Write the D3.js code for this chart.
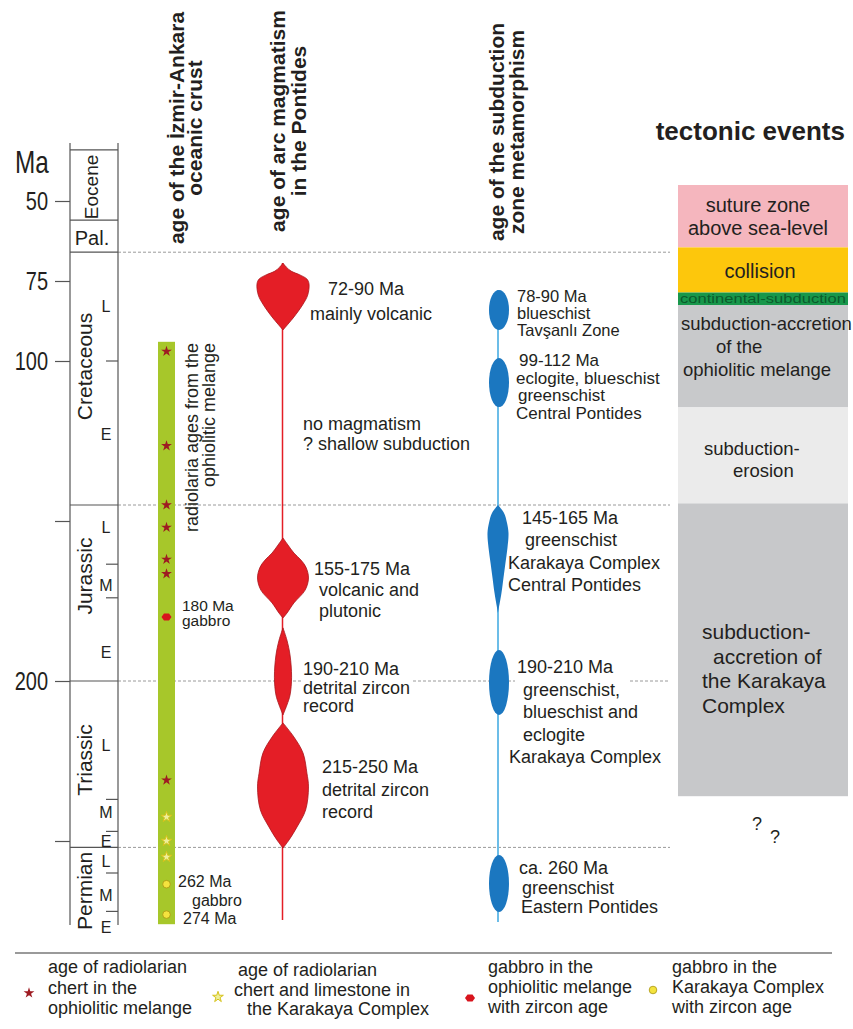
<!DOCTYPE html>
<html>
<head>
<meta charset="utf-8">
<script src="https://cdn.jsdelivr.net/npm/d3@7"></script>
<style>
body { margin: 0; background: #fff; }
text { font-family: "Liberation Sans", Arial, sans-serif; fill: #231f20; }
</style>
</head>
<body>
<div id="chart"></div>
<script>
var width = 853;
var height = 1029;

// geologic time scale (Ma)
var periods = ["Eocene", "Pal.", "Cretaceous", "Jurassic", "Triassic", "Permian"];
var periodTops = [34, 56, 66, 145, 200, 252];
var periodBases = [56, 66, 145, 200, 252, 276];
var periodLabelAges = [45.6, 61.25, 101.7, 167.2, 224.7, 265.6];
var epochLetters = ["L", "E", "L", "M", "E", "L", "M", "E", "L", "M", "E"];
var epochLabelAges = [83, 123, 152, 170, 191, 220, 241, 250, 256.5, 267, 277];
var epochTicks = [100, 163.5, 174, 237, 247, 260, 272];
var axisTicks = [50, 75, 100, 150, 200, 250];
var axisLabels = ["50", "75", "100", "", "200", ""];

// age of the Izmir-Ankara oceanic crust
var crustTop = 94;
var crustBase = 276;
var chertOphiolite = [97, 126.5, 145, 152, 162, 166.5, 231];
var chertKarakaya = [242.5, 250, 255];
var gabbroOphiolite = [180];
var gabbroKarakaya = [263.5, 273];

// arc magmatism bodies: age profile + relative width
var arcAges = [
    [69.4, 70.6, 71.9, 73.1, 74.4, 75.9, 79.4, 82.5, 86.25, 88.4, 90.3],
    [155.3, 157.5, 160, 162.2, 164.4, 167.8, 171.6, 175.6, 178.8, 180.3],
    [183.4, 187.2, 191.9, 198.8, 204.4, 207.5, 210.6],
    [213.1, 217.5, 222.5, 228.8, 233.1, 240.3, 245.6, 249.7, 252.2]
];
var arcWidths = [
    [0, 0.12, 0.31, 0.65, 0.92, 1, 0.95, 0.75, 0.42, 0.2, 0],
    [0, 0.19, 0.42, 0.69, 0.88, 0.98, 0.85, 0.42, 0.15, 0],
    [0, 0.15, 0.27, 0.33, 0.27, 0.15, 0],
    [0, 0.42, 0.77, 0.92, 0.98, 0.87, 0.54, 0.23, 0]
];

// subduction zone metamorphism
var metaTops = [77.8, 99.1, 190.3, 254.4];
var metaBases = [90.3, 114.4, 210.6, 272.2];
var spindleAges = [145, 147.5, 150.6, 153.75, 158.4, 163.1, 167.8, 172.5, 178.75];
var spindleWidths = [0, 0.57, 0.86, 1, 0.9, 0.71, 0.52, 0.33, 0];

// tectonic events
var tectLines = [
    ["suture zone", "above sea-level"],
    ["collision"],
    ["continental-subduction"],
    ["subduction-accretion", "of the", "ophiolitic melange"],
    ["subduction-", "erosion"],
    ["subduction-", "accretion of", "the Karakaya", "Complex"]
];
var tectTops = [45, 64.5, 78.6, 82.5, 114.5, 144.5];
var tectBases = [64.5, 78.6, 82.5, 114.5, 144.5, 236];
var tectColors = ["#f5b6be", "#fdc70c", "#18974b", "#c8c9cb", "#ebebeb", "#c7c8ca"];

var svg = d3.select("#chart").append("svg").attr("width", width).attr("height", height);

var y = d3.scaleLinear().domain([50, 250]).range([201, 841]);
var wArc = d3.scaleLinear().domain([0, 1]).range([0, 26]);
var wMeta = d3.scaleLinear().domain([0, 1]).range([0, 10.5]);

var colL = 70, colR = 118;
var arcX = 283, metaX = 498, crustX = 166.5;
var tectL = 678, tectR = 848;

// dashed period boundaries
var dashG = svg.append("g").attr("stroke", "#9a9a9a").attr("stroke-width", 1).attr("stroke-dasharray", "3,2");
[66, 145, 252].forEach(function(a) {
    dashG.append("line").attr("x1", colR).attr("x2", 670).attr("y1", y(a)).attr("y2", y(a));
});
[[colR, 302], [413, 515], [630, 670]].forEach(function(s) {
    dashG.append("line").attr("x1", s[0]).attr("x2", s[1]).attr("y1", y(200)).attr("y2", y(200));
});

// time scale column
var ts = svg.append("g").attr("stroke", "#555").attr("stroke-width", 1.2);
ts.append("line").attr("x1", colL).attr("x2", colL).attr("y1", 143).attr("y2", 925);
ts.append("line").attr("x1", colR).attr("x2", colR).attr("y1", 143).attr("y2", 925);
periodTops.forEach(function(a) {
    ts.append("line").attr("x1", colL).attr("x2", colR).attr("y1", y(a)).attr("y2", y(a));
});
epochTicks.forEach(function(a) {
    ts.append("line").attr("x1", colR - 12).attr("x2", colR).attr("y1", y(a)).attr("y2", y(a));
});

periods.forEach(function(p, i) {
    var cy = y(periodLabelAges[i]);
    if (p == "Pal.") {
        svg.append("text").attr("x", 92).attr("y", cy + 8).attr("text-anchor", "middle")
            .style("font-size", "20px").text(p);
    } else {
        var bx = (p == "Eocene") ? 98 : 92;
        svg.append("text").attr("transform", "translate(" + bx + "," + cy + ") rotate(-90)")
            .attr("text-anchor", "middle").style("font-size", p == "Eocene" ? "19px" : "21px").text(p);
    }
});
epochLetters.forEach(function(l, i) {
    svg.append("text").attr("x", 106).attr("y", y(epochLabelAges[i]) + 5.5).attr("text-anchor", "middle")
        .style("font-size", "16px").text(l);
});

var axis = d3.axisLeft(y).tickValues(axisTicks).tickSize(15).tickPadding(6)
    .tickFormat(function(d, i) { return axisLabels[i]; });
var axG = svg.append("g").attr("transform", "translate(" + colL + ",0)").call(axis);
axG.select(".domain").remove();
axG.selectAll(".tick line").attr("stroke", "#555").attr("stroke-width", 1.2);
// condensed look of the scale numbers
axG.selectAll(".tick text").attr("x", 0).attr("dy", "0.35em")
    .attr("transform", "translate(-22,0) scale(0.8,1)")
    .style("font-size", "25px").style("font-family", "'Liberation Sans', Arial, sans-serif").attr("fill", "#231f20");

svg.append("text").attr("transform", "translate(15,173) scale(0.76,1)").style("font-size", "32px").text("Ma");

// column headers
function header(x1, x2, cy, l1, l2) {
    svg.append("text").attr("transform", "translate(" + x1 + "," + cy + ") rotate(-90)")
        .attr("text-anchor", "middle").style("font-size", "21px").style("font-weight", "bold").text(l1);
    svg.append("text").attr("transform", "translate(" + x2 + "," + cy + ") rotate(-90)")
        .attr("text-anchor", "middle").style("font-size", "21px").style("font-weight", "bold").text(l2);
}
header(184, 202, 128, "age of the İzmir-Ankara", "oceanic crust");
header(285, 306, 121, "age of arc magmatism", "in the Pontides");
header(504, 524, 132, "age of the subduction", "zone metamorphism");

svg.append("text").attr("x", 845).attr("y", 140).attr("text-anchor", "end")
    .style("font-size", "26px").style("font-weight", "bold").text("tectonic events");

// oceanic crust column
svg.append("rect").attr("x", 158).attr("width", 17).attr("y", y(crustTop))
    .attr("height", y(crustBase) - y(crustTop)).attr("fill", "#a7c72a");

var star = d3.symbol().type(d3.symbolStar).size(36);
var hexagon = {
    draw: function(ctx, size) {
        var r = Math.sqrt(size) / 2;
        ctx.moveTo(-r, 0); ctx.lineTo(-r / 2, -r * 0.7); ctx.lineTo(r / 2, -r * 0.7);
        ctx.lineTo(r, 0); ctx.lineTo(r / 2, r * 0.7); ctx.lineTo(-r / 2, r * 0.7); ctx.closePath();
    }
};
var hex = d3.symbol().type(hexagon).size(100);

svg.selectAll(".chertO").data(chertOphiolite).enter().append("path").attr("class", "chertO")
    .attr("d", star).attr("transform", function(d) { return "translate(" + crustX + "," + y(d) + ")"; })
    .attr("fill", "#9e1b22");
svg.selectAll(".chertK").data(chertKarakaya).enter().append("path").attr("class", "chertK")
    .attr("d", star).attr("transform", function(d) { return "translate(" + crustX + "," + y(d) + ")"; })
    .attr("fill", "#eef09c").attr("stroke", "#d6c21a").attr("stroke-width", 1);
svg.selectAll(".gabO").data(gabbroOphiolite).enter().append("path").attr("class", "gabO")
    .attr("d", hex).attr("transform", function(d) { return "translate(" + crustX + "," + y(d) + ")"; })
    .attr("fill", "#d8141d");
svg.selectAll(".gabK").data(gabbroKarakaya).enter().append("circle").attr("class", "gabK")
    .attr("cx", crustX).attr("cy", function(d) { return y(d); }).attr("r", 3.8)
    .attr("fill", "#f4e33e").attr("stroke", "#a89410").attr("stroke-width", 0.8);

function lines(x, yb, arr, lh, size) {
    arr.forEach(function(l, i) {
        var dx = Array.isArray(l) ? l[1] : 0;
        var t = Array.isArray(l) ? l[0] : l;
        svg.append("text").attr("x", x + dx).attr("y", yb + i * lh).style("font-size", size || "18px").text(t);
    });
}

lines(182, 611, ["180 Ma", "gabbro"], 15, "15.5px");
lines(178, 887, ["262 Ma", ["gabbro", 14], ["274 Ma", 5]], 18.5, "16px");

svg.append("text").attr("transform", "translate(198,343) rotate(-90)").attr("text-anchor", "end")
    .style("font-size", "18px").text("radiolaria ages from the");
svg.append("text").attr("transform", "translate(215,343) rotate(-90)").attr("text-anchor", "end")
    .style("font-size", "18px").text("ophiolitic melange");

// arc magmatism
svg.append("line").attr("x1", 282.5).attr("x2", 282.5).attr("y1", y(69.4)).attr("y2", y(274.7))
    .attr("stroke", "#e41e26").attr("stroke-width", 1.5);
var arcArea = d3.area().curve(d3.curveCatmullRom)
    .y(function(d) { return y(d[0]); })
    .x0(function(d) { return arcX - wArc(d[1]); })
    .x1(function(d) { return arcX + wArc(d[1]); });
arcAges.forEach(function(ages, i) {
    svg.append("path").attr("d", arcArea(d3.zip(ages, arcWidths[i])))
        .attr("fill", "#e41e26").attr("stroke", "#a8141b").attr("stroke-width", 0.8);
});

lines(328, 295, ["72-90 Ma", ["mainly volcanic", -18]], 25);
lines(303, 430, ["no magmatism", "? shallow subduction"], 20);
lines(314, 575, ["155-175 Ma", ["volcanic and", 5], ["plutonic", 5]], 21);
lines(303, 675, ["190-210 Ma", "detrital zircon", "record"], 18.5);
lines(322, 773, ["215-250 Ma", "detrital zircon", "record"], 22.5);

// subduction zone metamorphism
svg.append("line").attr("x1", metaX).attr("x2", metaX).attr("y1", y(77.8)).attr("y2", y(275.3))
    .attr("stroke", "#6cbde8").attr("stroke-width", 2);
metaTops.forEach(function(t, i) {
    svg.append("ellipse").attr("cx", metaX + 1).attr("cy", (y(t) + y(metaBases[i])) / 2)
        .attr("rx", 10).attr("ry", (y(metaBases[i]) - y(t)) / 2).attr("fill", "#1b77c0");
});
var metaArea = d3.area().curve(d3.curveCatmullRom)
    .y(function(d) { return y(d[0]); })
    .x0(function(d) { return metaX - wMeta(d[1]); })
    .x1(function(d) { return metaX + wMeta(d[1]); });
svg.append("path").attr("d", metaArea(d3.zip(spindleAges, spindleWidths))).attr("fill", "#1b77c0");

lines(517, 302, ["78-90 Ma", "blueschist", "Tavşanlı Zone"], 17, "16.5px");
lines(516, 366, [["99-112 Ma", 3], "eclogite, blueschist", ["greenschist", 2], "Central Pontides"], 17.7, "17px");
lines(508, 524, [["145-165 Ma", 14], ["greenschist", 17], "Karakaya Complex", "Central Pontides"], 22.3);
lines(509, 673, [["190-210 Ma", 8], ["greenschist,", 14], ["blueschist and", 14], ["eclogite", 14], "Karakaya Complex"], 22.5);
lines(519, 874, ["ca. 260 Ma", ["greenschist", 3], ["Eastern Pontides", 2]], 19.5);

// tectonic events boxes
tectTops.forEach(function(t, i) {
    svg.append("rect").attr("x", tectL).attr("width", tectR - tectL).attr("y", y(t))
        .attr("height", y(tectBases[i]) - y(t)).attr("fill", tectColors[i]);
});
function tectText(i, x, yb, lh, size, anchor, dxs) {
    tectLines[i].forEach(function(l, j) {
        svg.append("text").attr("x", x + (dxs ? dxs[j] : 0)).attr("y", yb + j * lh)
            .attr("text-anchor", anchor).style("font-size", size).text(l);
    });
}
tectText(0, 758, 212, 23, "20px", "middle");
tectText(1, 760, 278, 0, "20px", "middle");
svg.append("text").attr("x", 680).attr("y", y(82.5) - 2.5).attr("textLength", 166)
    .attr("lengthAdjust", "spacingAndGlyphs").style("font-size", "12px").style("fill", "#0b5a2b")
    .text(tectLines[2][0]);
tectText(3, 681, 330, 23, "18.5px", "start", [0, 35, 2]);
tectText(4, 704, 455, 21.5, "18.5px", "start", [0, 29]);
tectText(5, 702, 639, 24.7, "21px", "start", [0, 11, 0, 0]);
svg.append("text").attr("x", 752).attr("y", 830).style("font-size", "18px").text("?");
svg.append("text").attr("x", 770).attr("y", 843).style("font-size", "18px").text("?");

// legend
svg.append("line").attr("x1", 15).attr("x2", 832).attr("y1", 953).attr("y2", 953)
    .attr("stroke", "#9a9a9a").attr("stroke-width", 2);
var legStar = d3.symbol().type(d3.symbolStar).size(36);
svg.append("path").attr("d", legStar).attr("transform", "translate(29,993)").attr("fill", "#9e1b22");
lines(48, 973, ["age of radiolarian", "chert in the", "ophiolitic melange"], 20.5);
svg.append("path").attr("d", legStar).attr("transform", "translate(218,997)")
    .attr("fill", "#eef09c").attr("stroke", "#d6c21a").attr("stroke-width", 1);
lines(238, 976, ["age of radiolarian", ["chert and limestone in", -4], ["the Karakaya Complex", 9]], 19.5);
svg.append("path").attr("d", hex).attr("transform", "translate(470,998)").attr("fill", "#d8141d");
lines(488, 973, ["gabbro in the", "ophiolitic melange", "with zircon age"], 20);
svg.append("circle").attr("cx", 653).attr("cy", 990).attr("r", 3.8)
    .attr("fill", "#f4e33e").attr("stroke", "#a89410").attr("stroke-width", 0.8);
lines(672, 973, ["gabbro in the", "Karakaya Complex", "with zircon age"], 20);
</script>
</body>
</html>
